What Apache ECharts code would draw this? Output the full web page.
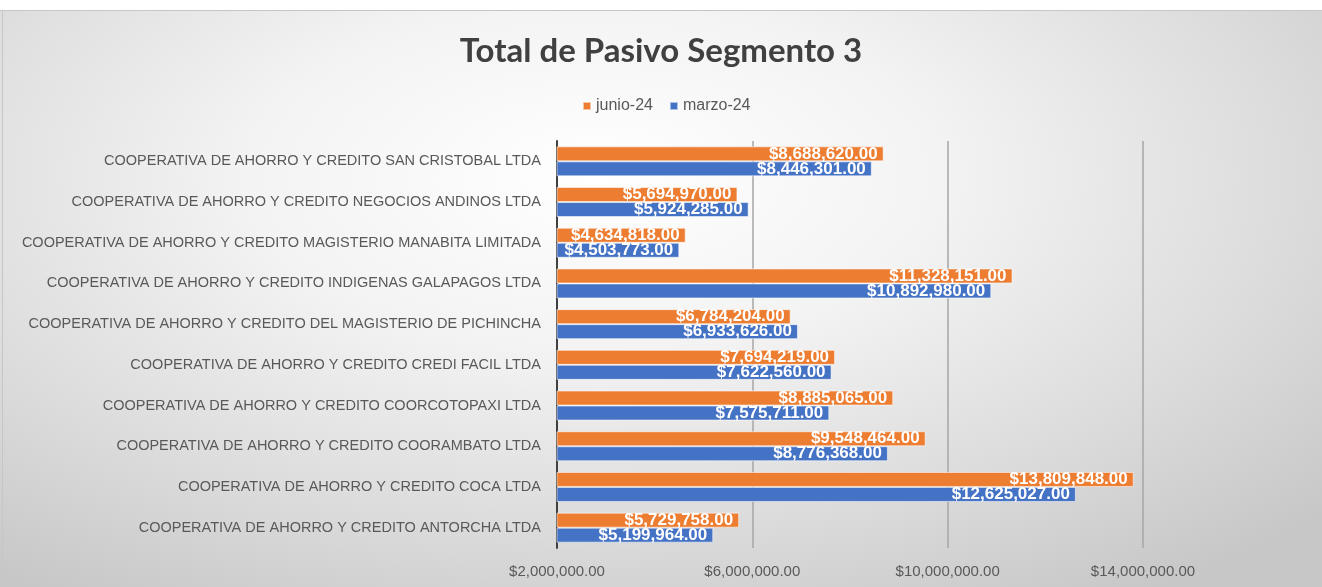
<!DOCTYPE html>
<html>
<head>
<meta charset="utf-8">
<script src="https://cdn.jsdelivr.net/npm/echarts@6/dist/echarts.min.js"></script>
<style>
  html, body { margin: 0; padding: 0; background: #ffffff; }
  #chart {
    width: 1322px; height: 587px;
    background:
      linear-gradient(#ffffff, #ffffff) 0 0 / 100% 10px no-repeat,
      linear-gradient(#c6c6c6, #c6c6c6) 0 10px / 100% 1px no-repeat,
      linear-gradient(#c6c6c6, #c6c6c6) 2px 10px / 1px 100% no-repeat,
      radial-gradient(ellipse 75% 85% at 45% 30%, #ffffff 0%, #f3f3f3 35%, #dcdcdc 70%, #c7c7c7 100%);
  }
</style>
</head>
<body>
<div id="chart"></div>
<script>
const categories = [
  'COOPERATIVA DE AHORRO Y CREDITO SAN CRISTOBAL LTDA',
  'COOPERATIVA DE AHORRO Y CREDITO NEGOCIOS ANDINOS LTDA',
  'COOPERATIVA DE AHORRO Y CREDITO MAGISTERIO MANABITA LIMITADA',
  'COOPERATIVA DE AHORRO Y CREDITO INDIGENAS GALAPAGOS LTDA',
  'COOPERATIVA DE AHORRO Y CREDITO DEL MAGISTERIO DE PICHINCHA',
  'COOPERATIVA DE AHORRO Y CREDITO CREDI FACIL LTDA',
  'COOPERATIVA DE AHORRO Y CREDITO COORCOTOPAXI LTDA',
  'COOPERATIVA DE AHORRO Y CREDITO COORAMBATO LTDA',
  'COOPERATIVA DE AHORRO Y CREDITO COCA LTDA',
  'COOPERATIVA DE AHORRO Y CREDITO ANTORCHA LTDA'
];
const junio24 = [8688620, 5694970, 4634818, 11328151, 6784204, 7694219, 8885065, 9548464, 13809848, 5729758];
const marzo24 = [8446301, 5924285, 4503773, 10892980, 6933626, 7622560, 7575711, 8776368, 12625027, 5199964];
const seriesNames = ['junio-24', 'marzo-24'];
const titleText = 'Total de Pasivo Segmento 3';

function money(v) {
  return '$' + Number(v).toLocaleString('en-US', { minimumFractionDigits: 2, maximumFractionDigits: 2 });
}

const chart = echarts.init(document.getElementById('chart'), null, { renderer: 'canvas' });
const labelStyle = {
  show: true,
  position: 'insideRight',
  distance: 6,
  color: '#ffffff',
  fontFamily: 'Liberation Sans',
  fontWeight: 'bold',
  fontSize: 17,
  formatter: p => money(p.value)
};
chart.setOption({
  backgroundColor: 'transparent',
  animation: false,
  title: {
    text: titleText,
    left: 'center',
    top: 30,
    textStyle: { fontFamily: 'Lato', fontWeight: 'bold', fontSize: 33, color: '#404040' }
  },
  legend: {
    data: seriesNames,
    top: 93,
    left: 577,
    itemWidth: 8,
    itemHeight: 8,
    itemGap: 16,
    icon: 'rect',
    textStyle: { fontFamily: 'Liberation Sans', fontSize: 16, color: '#595959' }
  },
  grid: { left: 557, right: 179, top: 141, bottom: 39, containLabel: false },
  xAxis: {
    type: 'value',
    min: 2000000,
    max: 14000000,
    interval: 4000000,
    axisLine: { show: false },
    axisTick: { show: false },
    splitLine: { show: true, lineStyle: { color: '#a6a6a6', width: 1.5 } },
    axisLabel: {
      margin: 16,
      fontFamily: 'Liberation Sans',
      fontSize: 15,
      color: '#595959',
      formatter: v => money(v)
    }
  },
  yAxis: {
    type: 'category',
    inverse: true,
    data: categories,
    axisLine: { show: true, lineStyle: { color: '#404040', width: 2 } },
    axisTick: { show: false },
    axisLabel: {
      margin: 16,
      fontFamily: 'Liberation Sans',
      fontSize: 14.5,
      color: '#595959'
    }
  },
  series: [
    {
      name: seriesNames[0],
      type: 'bar',
      data: junio24,
      barWidth: 15,
      barGap: '0%',
      itemStyle: { color: '#ED7D31', borderColor: 'rgba(255,255,255,0.55)', borderWidth: 1 },
      label: labelStyle
    },
    {
      name: seriesNames[1],
      type: 'bar',
      data: marzo24,
      barWidth: 15,
      barGap: '0%',
      itemStyle: { color: '#4472C4', borderColor: 'rgba(255,255,255,0.55)', borderWidth: 1 },
      label: labelStyle
    }
  ]
});
</script>
</body>
</html>
